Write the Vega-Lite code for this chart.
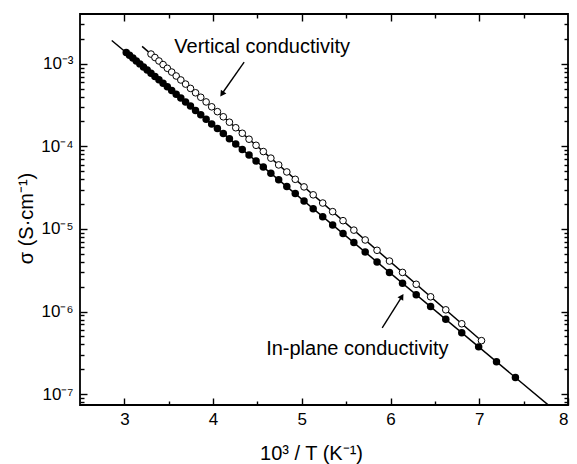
{
  "$schema": "https://vega.github.io/schema/vega-lite/v6.json",
  "width": 488,
  "height": 391,
  "autosize": {"type": "none"},
  "padding": {"left": 80, "top": 14, "right": 9, "bottom": 59},
  "background": "white",
  "config": {
    "view": {"stroke": "black", "strokeWidth": 1.8},
    "axis": {
      "domain": false, "grid": false, "tickColor": "black", "tickWidth": 1.4,
      "labelFont": "Liberation Sans", "labelFontSize": 17, "labelColor": "black",
      "titleFont": "Liberation Sans", "titleFontSize": 20, "titleFontWeight": "normal", "titleColor": "black"
    },
    "text": {"font": "Liberation Sans"}
  },
  "datasets": {
    "inplane": [
      {"x": 3.0211, "s": 1.368e-3}, {"x": 3.0581, "s": 1.267e-3}, {"x": 3.0960, "s": 1.172e-3}, {"x": 3.1348, "s": 1.082e-3},
      {"x": 3.1746, "s": 9.96e-4}, {"x": 3.2154, "s": 9.16e-4}, {"x": 3.2573, "s": 8.40e-4}, {"x": 3.3003, "s": 7.69e-4},
      {"x": 3.3445, "s": 7.02e-4}, {"x": 3.3898, "s": 6.39e-4}, {"x": 3.4364, "s": 5.80e-4}, {"x": 3.4843, "s": 5.26e-4},
      {"x": 3.5336, "s": 4.75e-4}, {"x": 3.5842, "s": 4.28e-4}, {"x": 3.6364, "s": 3.84e-4}, {"x": 3.6900, "s": 3.44e-4},
      {"x": 3.7453, "s": 3.07e-4}, {"x": 3.8023, "s": 2.72e-4}, {"x": 3.8610, "s": 2.41e-4}, {"x": 3.9216, "s": 2.13e-4},
      {"x": 3.9841, "s": 1.87e-4}, {"x": 4.0486, "s": 1.64e-4}, {"x": 4.1152, "s": 1.43e-4}, {"x": 4.1841, "s": 1.24e-4},
      {"x": 4.2553, "s": 1.07e-4}, {"x": 4.3290, "s": 9.18e-5}, {"x": 4.4053, "s": 7.84e-5}, {"x": 4.4843, "s": 6.66e-5},
      {"x": 4.5662, "s": 5.63e-5}, {"x": 4.6512, "s": 4.72e-5}, {"x": 4.7393, "s": 3.93e-5}, {"x": 4.8309, "s": 3.26e-5},
      {"x": 4.9261, "s": 2.68e-5}, {"x": 5.0251, "s": 2.18e-5}, {"x": 5.1282, "s": 1.76e-5}, {"x": 5.2356, "s": 1.41e-5},
      {"x": 5.3476, "s": 1.12e-5}, {"x": 5.4645, "s": 8.80e-6}, {"x": 5.5866, "s": 6.84e-6}, {"x": 5.7143, "s": 5.25e-6},
      {"x": 5.8480, "s": 3.98e-6}, {"x": 5.9880, "s": 2.98e-6}, {"x": 6.1350, "s": 2.20e-6}, {"x": 6.2893, "s": 1.60e-6},
      {"x": 6.4516, "s": 1.15e-6}, {"x": 6.6225, "s": 8.05e-7}, {"x": 6.8027, "s": 5.55e-7}, {"x": 6.9930, "s": 3.74e-7},
      {"x": 7.1942, "s": 2.47e-7}, {"x": 7.4074, "s": 1.59e-7}
    ],
    "vertical": [
      {"x": 3.3003, "s": 1.31e-3}, {"x": 3.3445, "s": 1.19e-3}, {"x": 3.3898, "s": 1.08e-3}, {"x": 3.4364, "s": 9.77e-4},
      {"x": 3.4843, "s": 8.81e-4}, {"x": 3.5336, "s": 7.93e-4}, {"x": 3.5842, "s": 7.11e-4}, {"x": 3.6364, "s": 6.36e-4},
      {"x": 3.6900, "s": 5.67e-4}, {"x": 3.7453, "s": 5.03e-4}, {"x": 3.8023, "s": 4.45e-4}, {"x": 3.8610, "s": 3.93e-4},
      {"x": 3.9216, "s": 3.45e-4}, {"x": 3.9841, "s": 3.01e-4}, {"x": 4.0486, "s": 2.63e-4}, {"x": 4.1152, "s": 2.28e-4},
      {"x": 4.1841, "s": 1.96e-4}, {"x": 4.2553, "s": 1.68e-4}, {"x": 4.3290, "s": 1.44e-4}, {"x": 4.4053, "s": 1.22e-4},
      {"x": 4.4843, "s": 1.03e-4}, {"x": 4.5662, "s": 8.65e-5}, {"x": 4.6512, "s": 7.20e-5}, {"x": 4.7393, "s": 5.96e-5},
      {"x": 4.8309, "s": 4.90e-5}, {"x": 4.9261, "s": 3.99e-5}, {"x": 5.0251, "s": 3.23e-5}, {"x": 5.1282, "s": 2.59e-5},
      {"x": 5.2356, "s": 2.06e-5}, {"x": 5.3476, "s": 1.62e-5}, {"x": 5.4645, "s": 1.26e-5}, {"x": 5.5866, "s": 9.68e-6},
      {"x": 5.7143, "s": 7.36e-6}, {"x": 5.8480, "s": 5.52e-6}, {"x": 5.9880, "s": 4.09e-6}, {"x": 6.1350, "s": 2.98e-6},
      {"x": 6.2893, "s": 2.14e-6}, {"x": 6.4516, "s": 1.51e-6}, {"x": 6.6225, "s": 1.05e-6}, {"x": 6.8027, "s": 7.12e-7},
      {"x": 7.0250, "s": 4.45e-7}
    ],
    "fits": [
      {"series": "In-plane", "x": 2.858, "s": 1.91e-3},
      {"series": "In-plane", "x": 7.80, "s": 7.07e-8},
      {"series": "Vertical", "x": 3.20, "s": 1.622e-3},
      {"series": "Vertical", "x": 7.05, "s": 4.19e-7}
    ],
    "arrows": [
      {"name": "Vertical", "x": 4.350, "s": 1.045e-3, "x2": 4.098, "s2": 4.3e-4},
      {"name": "In-plane", "x": 5.906, "s": 6.34e-7, "x2": 6.128, "s2": 1.52e-6}
    ],
    "heads": [
      {"name": "Vertical", "x": 4.100, "s": 4.3e-4},
      {"name": "In-plane", "x": 6.128, "s": 1.52e-6}
    ],
    "labels": [
      {"text": "Vertical conductivity", "x": 3.563, "s": 1.331e-3},
      {"text": "In-plane conductivity", "x": 4.598, "s": 2.96e-7}
    ]
  },
  "resolve": {"axis": {"x": "independent", "y": "independent"}},
  "layer": [
    {
      "data": {"name": "fits"},
      "mark": {"type": "line", "color": "black", "strokeWidth": 1.5, "clip": true},
      "encoding": {
        "detail": {"field": "series"},
        "x": {"field": "x", "type": "quantitative",
              "scale": {"domain": [2.5, 8], "nice": false, "zero": false},
              "axis": {"orient": "bottom", "values": [3, 4, 5, 6, 7, 8], "tickSize": -7, "labelPadding": 13,
                       "title": "10³ / T  (K⁻¹)", "titleX": 231, "titleY": 54, "titleBaseline": "alphabetic", "titleAlign": "center"}},
        "y": {"field": "s", "type": "quantitative",
              "scale": {"type": "log", "domain": [7.4e-8, 4e-3], "nice": false},
              "axis": {"orient": "left", "values": [1e-7, 1e-6, 1e-5, 1e-4, 1e-3], "tickSize": -7, "labelPadding": 14,
                       "labelExpr": "'10' + ['⁰','⁻¹','⁻²','⁻³','⁻⁴','⁻⁵','⁻⁶','⁻⁷','⁻⁸'][round(-log(datum.value)/LN10)]",
                       "title": "σ  (S·cm⁻¹)", "titleX": -48, "titleY": 204, "titleAngle": -90, "titleAlign": "center", "titleBaseline": "alphabetic"}}
      }
    },
    {
      "data": {"name": "inplane"},
      "mark": {"type": "circle", "color": "black", "opacity": 1, "size": 56},
      "encoding": {
        "x": {"field": "x", "type": "quantitative", "scale": {"domain": [2.5, 8], "nice": false, "zero": false},
              "axis": {"orient": "bottom", "values": [3.5, 4.5, 5.5, 6.5, 7.5], "tickSize": -4, "labels": false, "title": null}},
        "y": {"field": "s", "type": "quantitative", "scale": {"type": "log", "domain": [7.4e-8, 4e-3], "nice": false},
              "axis": {"orient": "left", "tickSize": -4, "labels": false, "title": null,
                       "values": [8e-8, 9e-8, 2e-7, 3e-7, 4e-7, 5e-7, 6e-7, 7e-7, 8e-7, 9e-7, 2e-6, 3e-6, 4e-6, 5e-6, 6e-6, 7e-6, 8e-6, 9e-6, 2e-5, 3e-5, 4e-5, 5e-5, 6e-5, 7e-5, 8e-5, 9e-5, 2e-4, 3e-4, 4e-4, 5e-4, 6e-4, 7e-4, 8e-4, 9e-4, 2e-3, 3e-3]}}
      }
    },
    {
      "data": {"name": "vertical"},
      "mark": {"type": "circle", "fill": "white", "stroke": "black", "strokeWidth": 1, "opacity": 1, "size": 44},
      "encoding": {
        "x": {"field": "x", "type": "quantitative", "scale": {"domain": [2.5, 8], "nice": false, "zero": false},
              "axis": {"orient": "top", "values": [3, 4, 5, 6, 7], "tickSize": -7, "labels": false, "title": null}},
        "y": {"field": "s", "type": "quantitative", "scale": {"type": "log", "domain": [7.4e-8, 4e-3], "nice": false},
              "axis": {"orient": "right", "values": [1e-7, 1e-6, 1e-5, 1e-4, 1e-3], "tickSize": -7, "labels": false, "title": null}}
      }
    },
    {
      "data": {"name": "arrows"},
      "mark": {"type": "rule", "color": "black", "strokeWidth": 1.4},
      "encoding": {
        "x": {"field": "x", "type": "quantitative", "scale": {"domain": [2.5, 8], "nice": false, "zero": false},
              "axis": {"orient": "top", "values": [3.5, 4.5, 5.5, 6.5, 7.5], "tickSize": -4, "labels": false, "title": null}},
        "x2": {"field": "x2"},
        "y": {"field": "s", "type": "quantitative", "scale": {"type": "log", "domain": [7.4e-8, 4e-3], "nice": false},
              "axis": {"orient": "right", "tickSize": -4, "labels": false, "title": null,
                       "values": [8e-8, 9e-8, 2e-7, 3e-7, 4e-7, 5e-7, 6e-7, 7e-7, 8e-7, 9e-7, 2e-6, 3e-6, 4e-6, 5e-6, 6e-6, 7e-6, 8e-6, 9e-6, 2e-5, 3e-5, 4e-5, 5e-5, 6e-5, 7e-5, 8e-5, 9e-5, 2e-4, 3e-4, 4e-4, 5e-4, 6e-4, 7e-4, 8e-4, 9e-4, 2e-3, 3e-3]}},
        "y2": {"field": "s2"}
      }
    },
    {
      "data": {"name": "heads"},
      "transform": [{"filter": "datum.name == 'Vertical'"}],
      "mark": {"type": "point", "shape": "triangle-up", "filled": true, "color": "black", "opacity": 1, "size": 45, "angle": 215},
      "encoding": {
        "x": {"field": "x", "type": "quantitative", "axis": null},
        "y": {"field": "s", "type": "quantitative", "axis": null}
      }
    },
    {
      "data": {"name": "heads"},
      "transform": [{"filter": "datum.name == 'In-plane'"}],
      "mark": {"type": "point", "shape": "triangle-up", "filled": true, "color": "black", "opacity": 1, "size": 45, "angle": 32},
      "encoding": {
        "x": {"field": "x", "type": "quantitative", "axis": null},
        "y": {"field": "s", "type": "quantitative", "axis": null}
      }
    },
    {
      "data": {"name": "labels"},
      "mark": {"type": "text", "align": "left", "baseline": "alphabetic", "fontSize": 20, "color": "black"},
      "encoding": {
        "x": {"field": "x", "type": "quantitative", "axis": null},
        "y": {"field": "s", "type": "quantitative", "axis": null},
        "text": {"field": "text"}
      }
    }
  ]
}
